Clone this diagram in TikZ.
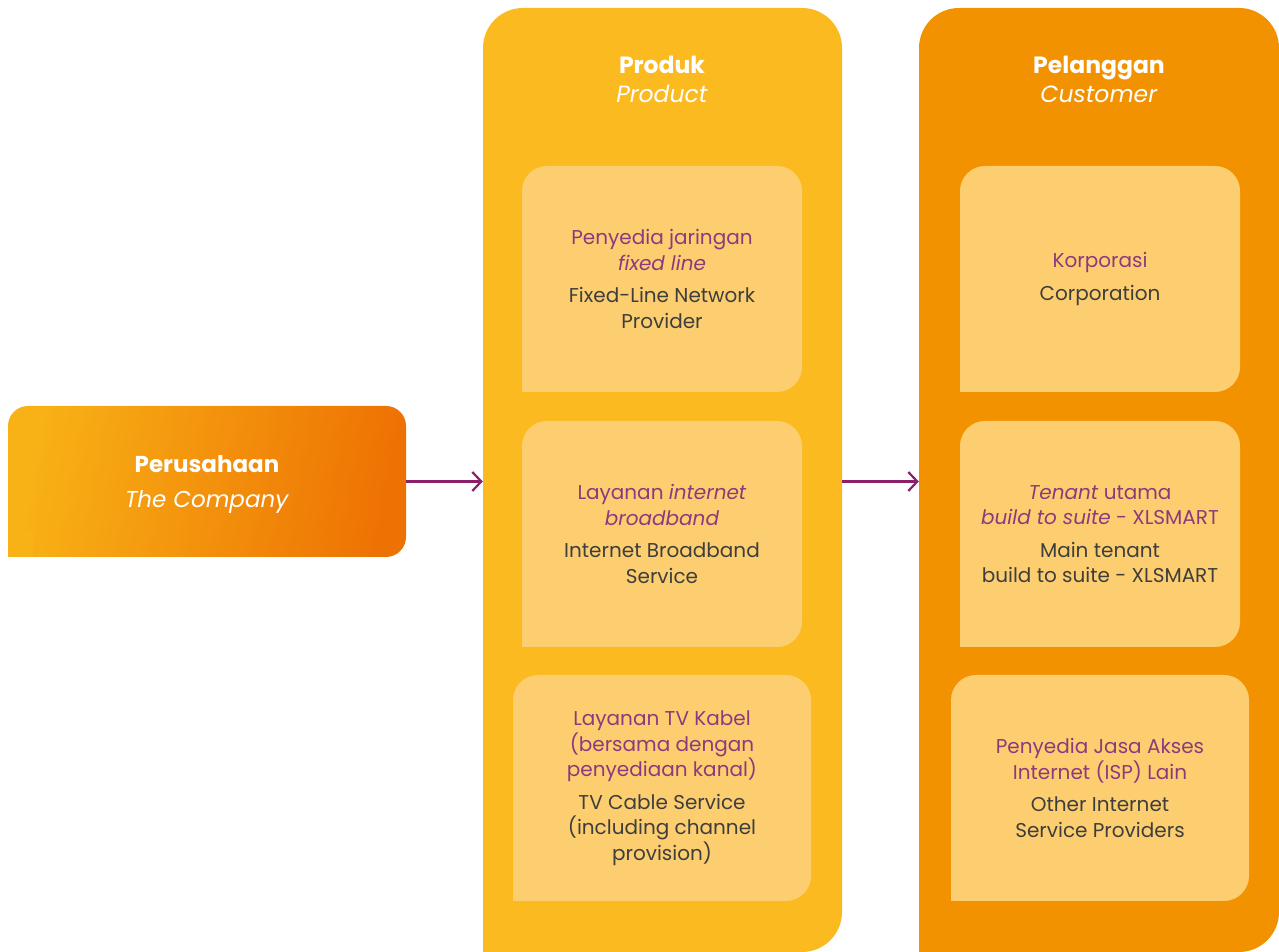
\documentclass[tikz,border=0pt]{standalone}
\usepackage{fontspec}
\setmainfont{Poppins}
\usetikzlibrary{arrows.meta}

\definecolor{ProdCol}{HTML}{FBBA1F}
\definecolor{CustCol}{HTML}{F29201}
\definecolor{ItemFill}{HTML}{FDCE6F}
\definecolor{CompLeft}{HTML}{F8B216}
\definecolor{CompRight}{HTML}{EE7203}
\definecolor{PurpText}{HTML}{8C3A7E}
\definecolor{GreyText}{HTML}{3E3E3D}
\definecolor{ArrowPurp}{HTML}{8B1F6A}

\begin{document}
\begin{tikzpicture}[x=1pt,y=1pt,
	ColBox/.style = {minimum width=#1, minimum height=944pt, rounded corners=40pt, inner sep=0pt},
	ItemBox/.style = {fill=ItemFill, minimum width=#1, minimum height=226pt, rounded corners=25pt,
		inner sep=0pt, align=center, text=GreyText, font=\fontsize{20}{25.5}\selectfont},
	TitleText/.style = {text=white, align=center, font=\fontsize{23.5}{29}\selectfont},
	FlowArrow/.style = {draw=ArrowPurp, line width=2.2pt, -{Straight Barb[length=9pt,width=19pt,line width=2.2pt]}}]
	\useasboundingbox (0,0) rectangle (1279,952);

	% columns
	\node[ColBox=359pt, fill=ProdCol] (prodcol) at (662.5,472) {};
	\node[ColBox=360pt, fill=CustCol] (custcol) at (1099,472) {};
	\fill[ProdCol] (prodcol.south west) rectangle ++(45,45);
	\fill[CustCol] (custcol.south west) rectangle ++(45,45);

	\node[TitleText] (prodtitle) at (662,873) {\textbf{Produk}\\\textit{Product}};
	\node[TitleText] (custtitle) at (1099,873) {\textbf{Pelanggan}\\\textit{Customer}};

	% the company
	\node[minimum width=398pt, minimum height=151pt, rounded corners=20pt, left color=CompLeft, right color=CompRight, shading angle=80] (company) at (207,470.5) {};
	\fill[CompLeft] (company.south west) rectangle ++(25,25);
	\node[text=white, align=center, font=\fontsize{23}{35}\selectfont, yshift=-3pt] (comptext) at (company) {\textbf{Perusahaan}\\\textit{The Company}};

	% products
	\node[ItemBox=280pt] (fixed) at (662,673) {\textcolor{PurpText}{Penyedia jaringan}\\\textcolor{PurpText}{\textit{fixed line}}\\[7pt]Fixed-Line Network\\Provider};
	\node[ItemBox=280pt] (broadband) at (662,418) {\textcolor{PurpText}{Layanan \textit{internet}}\\\textcolor{PurpText}{\textit{broadband}}\\[7pt]Internet Broadband\\Service};
	\node[ItemBox=298pt] (cable) at (662,164) {\textcolor{PurpText}{Layanan TV Kabel}\\\textcolor{PurpText}{(bersama dengan}\\\textcolor{PurpText}{penyediaan kanal)}\\[7pt]TV Cable Service\\(including channel\\provision)};

	% customers
	\node[ItemBox=280pt] (corp) at (1100,673) {\textcolor{PurpText}{Korporasi}\\[7pt]Corporation};
	\node[ItemBox=280pt] (tenant) at (1100,418) {\textcolor{PurpText}{\textit{Tenant} utama}\\\textcolor{PurpText}{\textit{build to suite} - XLSMART}\\[7pt]Main tenant\\build to suite - XLSMART};
	\node[ItemBox=298pt] (isp) at (1100,164) {\textcolor{PurpText}{Penyedia Jasa Akses}\\\textcolor{PurpText}{Internet (ISP) Lain}\\[7pt]Other Internet\\Service Providers};

	\foreach \n in {fixed,broadband,cable,corp,tenant,isp}
		\fill[ItemFill] (\n.south west) rectangle ++(28,28);

	% flow
	\draw[FlowArrow] (company.east) -- (prodcol.west |- company.east);
	\draw[FlowArrow] (prodcol.east |- company.east) -- (custcol.west |- company.east);
\end{tikzpicture}
\end{document}
